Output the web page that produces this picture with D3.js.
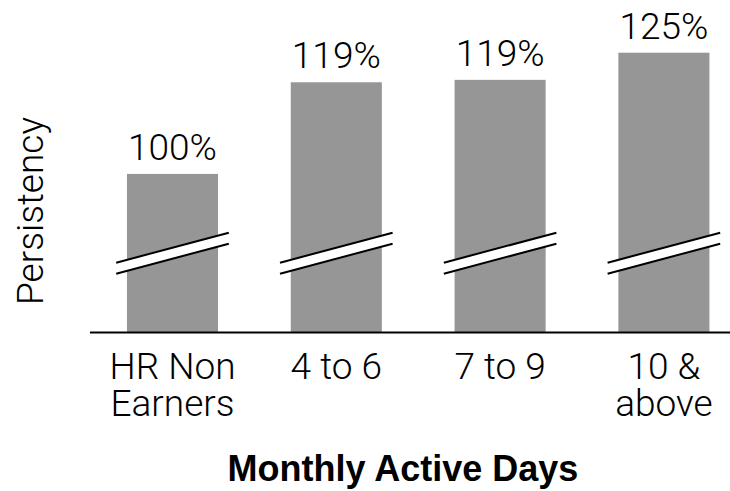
<!DOCTYPE html>
<html>
<head>
<meta charset="utf-8">
<script src="https://cdn.jsdelivr.net/npm/d3@7/dist/d3.min.js"></script>
<style>
  html, body { margin: 0; padding: 0; background: #fff; }
  svg { display: block; }
</style>
</head>
<body>
<div id="chart"></div>
<script>
const categories = ["HR Non|Earners", "4 to 6", "7 to 9", "10 &|above"];
const values = [100, 118.9, 119.4, 125];
const valueLabels = ["100%", "119%", "119%", "125%"];
const xTitle = "Monthly Active Days";
const yTitle = "Persistency";

const W = 730, H = 491;
const svg = d3.select("#chart").append("svg").attr("width", W).attr("height", H);

const baseY = 332.5;
const x = d3.scaleBand().domain(categories).range([90.6, 745.8]).paddingInner(0.444).paddingOuter(0.222);
const y = d3.scaleLinear().domain([67.3, 125]).range([baseY, 52.7]);

const lightFont = "Roboto, 'Liberation Sans', Arial, sans-serif";
const fs = 37;

// bars
svg.selectAll("rect.bar").data(values).enter().append("rect")
  .attr("class", "bar")
  .attr("x", (d, i) => x(categories[i]))
  .attr("width", x.bandwidth())
  .attr("y", d => y(d))
  .attr("height", d => baseY - y(d))
  .attr("fill", "#969696");

// break marks
const bHalf = 56.3, bSlope = 30 / 112.6, bTop = 247.7, bGap = 11;
categories.forEach(c => {
  const cx = x(c) + x.bandwidth() / 2;
  const x1 = cx - bHalf, x2 = cx + bHalf;
  const y1 = bTop + bHalf * bSlope, y2 = bTop - bHalf * bSlope;
  svg.append("path")
    .attr("d", `M${x1},${y1}L${x2},${y2}L${x2},${y2 + bGap}L${x1},${y1 + bGap}Z`)
    .attr("fill", "#fff");
  [0, bGap].forEach(off => {
    svg.append("line")
      .attr("x1", x1).attr("y1", y1 + off)
      .attr("x2", x2).attr("y2", y2 + off)
      .attr("stroke", "#000").attr("stroke-width", 2);
  });
});

// value labels
svg.selectAll("text.val").data(values).enter().append("text")
  .attr("class", "val")
  .attr("x", (d, i) => x(categories[i]) + x.bandwidth() / 2)
  .attr("y", d => y(d) - 14)
  .attr("text-anchor", "middle")
  .attr("font-family", lightFont)
  .attr("font-weight", 300)
  .attr("font-size", fs)
  .attr("fill", "#000")
  .text((d, i) => valueLabels[i]);

// x axis line
svg.append("line")
  .attr("x1", 90).attr("x2", 730)
  .attr("y1", baseY).attr("y2", baseY)
  .attr("stroke", "#000").attr("stroke-width", 2);

// category labels
categories.forEach(c => {
  const lines = c.split("|");
  const t = svg.append("text")
    .attr("x", x(c) + x.bandwidth() / 2)
    .attr("y", 379)
    .attr("text-anchor", "middle")
    .attr("font-family", lightFont)
    .attr("font-weight", 300)
    .attr("font-size", fs)
    .attr("fill", "#000");
  lines.forEach((l, i) => {
    t.append("tspan").attr("x", x(c) + x.bandwidth() / 2).attr("dy", i === 0 ? 0 : 37).text(l);
  });
});

// axis titles
svg.append("text")
  .attr("x", 403).attr("y", 481)
  .attr("text-anchor", "middle")
  .attr("font-family", "'Liberation Sans', Arial, sans-serif")
  .attr("font-weight", "bold")
  .attr("font-size", 36)
  .attr("fill", "#000")
  .text(xTitle);

svg.append("text")
  .attr("transform", "translate(43,211) rotate(-90)")
  .attr("text-anchor", "middle")
  .attr("font-family", lightFont)
  .attr("font-weight", 300)
  .attr("font-size", fs)
  .attr("fill", "#000")
  .text(yTitle);
</script>
</body>
</html>
